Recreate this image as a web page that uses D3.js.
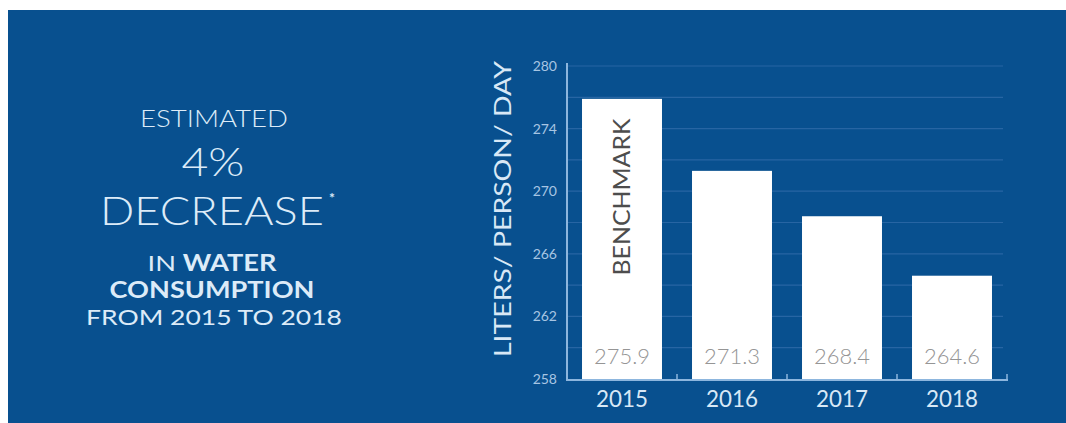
<!DOCTYPE html>
<html>
<head>
<meta charset="utf-8">
<script src="https://cdn.jsdelivr.net/npm/d3@7"></script>
<style>
  html, body { margin: 0; padding: 0; background: #ffffff; }
  svg { display: block; font-family: "Lato", "Open Sans", sans-serif; }
</style>
</head>
<body>
<svg id="chart" width="1066" height="423"></svg>
<script>
// Daily water use per person, liters
const years = ["2015", "2016", "2017", "2018"];
const liters = [275.9, 271.3, 268.4, 264.6];
const valueLabels = ["275.9", "271.3", "268.4", "264.6"];

// Axis ticks as printed on the scale
const tickValues = [258, 262, 266, 270, 274, 278];
const tickLabels = ["258", "262", "266", "270", "274", "280"];
const gridValues = [260, 262, 264, 266, 268, 270, 272, 274, 276, 278];

const svg = d3.select("#chart");
const W = 1066, H = 423;

const BG = "#08508f";
svg.append("rect").attr("x", 8).attr("y", 10).attr("width", W - 8).attr("height", H - 10).attr("fill", BG);

// Widen a centred text horizontally around its anchor so it spans `target` px
function stretch(sel, target) {
  const w = sel.node().getComputedTextLength();
  const s = target / w;
  const x0 = +sel.attr("x");
  sel.attr("transform", `translate(${x0 * (1 - s)},0) scale(${s},1)`);
  return sel;
}

// Headline block on the left
const left = svg.append("g").attr("fill", "#dcebf8").attr("text-anchor", "middle");
stretch(left.append("text").attr("x", 214).attr("y", 127).attr("font-size", 23).attr("font-weight", 300).text("ESTIMATED"), 148);
stretch(left.append("text").attr("x", 213).attr("y", 176).attr("font-size", 40).attr("font-weight", 300).text("4%"), 63);
stretch(left.append("text").attr("x", 212).attr("y", 225).attr("font-size", 40).attr("font-weight", 300).text("DECREASE"), 224);
left.append("text").attr("x", 332).attr("y", 203).attr("font-size", 14).attr("font-weight", 700).text("*");

const l1 = left.append("text").attr("x", 212).attr("y", 271).attr("font-size", 22);
l1.append("tspan").attr("font-weight", 400).text("IN ");
l1.append("tspan").attr("font-weight", 700).text("WATER");
stretch(l1, 129);
stretch(left.append("text").attr("x", 212).attr("y", 298).attr("font-size", 22).attr("font-weight", 700).text("CONSUMPTION"), 205);
stretch(left.append("text").attr("x", 214).attr("y", 325).attr("font-size", 22).attr("font-weight", 400).text("FROM 2015 TO 2018"), 256);

// Scales
const x = d3.scaleBand().domain(years).range([567, 1007]).paddingInner(0.273).paddingOuter(0.1365);
const y = d3.scaleLinear().domain([258, 278]).range([379, 66]);

// Horizontal gridlines
svg.append("g")
  .selectAll("line").data(gridValues).join("line")
  .attr("x1", 567).attr("x2", 1003)
  .attr("y1", d => y(d)).attr("y2", d => y(d))
  .attr("stroke", "#2765a3").attr("stroke-width", 1.2);

// Bars
svg.append("g")
  .selectAll("rect").data(liters).join("rect")
  .attr("x", (d, i) => x(years[i]))
  .attr("width", x.bandwidth())
  .attr("y", d => y(d))
  .attr("height", d => y(258) - y(d))
  .attr("fill", "#ffffff");

// Values printed inside bars
svg.append("g")
  .selectAll("text").data(valueLabels).join("text")
  .attr("x", (d, i) => x(years[i]) + x.bandwidth() / 2)
  .attr("y", 364)
  .attr("text-anchor", "middle")
  .attr("font-size", 22).attr("font-weight", 300)
  .attr("fill", "#959595")
  .text(d => d)
  .each(function () { stretch(d3.select(this), 56); });

// Benchmark label on the first bar
const bx = x(years[0]) + x.bandwidth() / 2 + 8;
const bench = svg.append("text")
  .attr("x", 0).attr("y", 0)
  .attr("text-anchor", "middle")
  .attr("font-size", 24).attr("font-weight", 400)
  .attr("fill", "#4d4d4d")
  .text("BENCHMARK");
{
  const s = 157 / bench.node().getComputedTextLength();
  bench.attr("transform", `translate(${bx},197) rotate(-90) scale(${s},1)`);
}

// Y axis
const yAxis = d3.axisLeft(y)
  .tickValues(tickValues)
  .tickSize(0)
  .tickPadding(10)
  .tickFormat((d, i) => tickLabels[i]);
const gy = svg.append("g").attr("transform", "translate(567,0)").call(yAxis);
gy.select(".domain").remove();
gy.selectAll("text").attr("font-size", 14).attr("fill", "#a7c5e3").attr("font-family", "'Lato', sans-serif");
svg.append("line").attr("x1", 567).attr("x2", 567).attr("y1", 63).attr("y2", 380)
  .attr("stroke", "#8db6de").attr("stroke-width", 2);

// X axis with small ticks at the band boundaries
svg.append("line").attr("x1", 566).attr("x2", 1008).attr("y1", 380).attr("y2", 380)
  .attr("stroke", "#8db6de").attr("stroke-width", 2);
svg.append("g").selectAll("line").data(years).join("line")
  .attr("x1", d => x(d) - x.step() * 0.1365 + x.step())
  .attr("x2", d => x(d) - x.step() * 0.1365 + x.step())
  .attr("y1", 380).attr("y2", 374)
  .attr("stroke", "#8db6de").attr("stroke-width", 1.5);
svg.append("g").selectAll("text").data(years).join("text")
  .attr("x", d => x(d) + x.bandwidth() / 2)
  .attr("y", 407)
  .attr("text-anchor", "middle")
  .attr("font-size", 24).attr("font-weight", 400)
  .attr("fill", "#d8e8f6")
  .text(d => d)
  .each(function () { stretch(d3.select(this), 52); });

// Y axis title
const yTitle = svg.append("text")
  .attr("x", 0).attr("y", 0)
  .attr("text-anchor", "middle")
  .attr("font-size", 23).attr("font-weight", 400)
  .attr("fill", "#d8e8f6")
  .text("LITERS/ PERSON/ DAY");
{
  const s = 296 / yTitle.node().getComputedTextLength();
  yTitle.attr("transform", `translate(511,209) rotate(-90) scale(${s},1)`);
}
</script>
</body>
</html>
